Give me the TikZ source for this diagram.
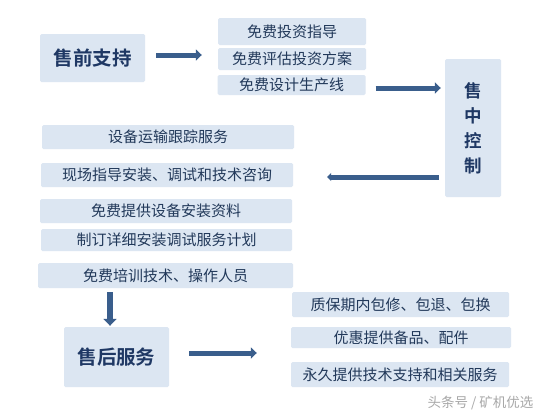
\documentclass[tikz,border=0pt]{standalone}
\usepackage{fontspec}
\setmainfont{Noto Sans CJK SC}[BoldFont={Noto Sans CJK SC Bold}]
\usetikzlibrary{arrows.meta}
\definecolor{boxfill}{HTML}{DCE6F2}
\definecolor{txtblue}{HTML}{22395A}
\definecolor{titleblue}{HTML}{1F3864}
\definecolor{arrowblue}{HTML}{3A5E8C}
\definecolor{wmgray}{HTML}{A8A8A8}
\tikzset{
  itembox/.style={rectangle, fill=boxfill, rounded corners=1.5pt, inner sep=0pt,
    text=txtblue, font=\fontsize{15}{17}\selectfont},
  titlebox/.style={rectangle, fill=boxfill, rounded corners=1.5pt, inner sep=0pt,
    text=titleblue, font=\bfseries\fontsize{19.5}{22}\selectfont},
  arr/.style={draw=arrowblue, line width=5pt, -{Triangle[length=6pt,width=11pt]}},
  arrdown/.style={draw=arrowblue, line width=6.5pt, -{Triangle[length=7pt,width=13pt]}},
}
\begin{document}
\begin{tikzpicture}[x=1pt,y=-1pt]
\useasboundingbox (0,0) rectangle (552,415);
\fill[white] (0,0) rectangle (552,415);
% pre-sale
\node[titlebox, minimum width=105pt, minimum height=48pt] (pre) at (92.5,58) {售前支持};
\node[itembox, minimum width=148pt, minimum height=27pt] (f1) at (292,31.5) {免费投资指导};
\node[itembox, minimum width=148pt, minimum height=22pt] (f2) at (292,59) {免费评估投资方案};
\node[itembox, minimum width=148pt, minimum height=20pt] (f3) at (291.5,85) {免费设计生产线};
% in-sale
\node[titlebox, minimum width=56pt, minimum height=138pt, align=center,
  font=\bfseries\fontsize{17.5}{25}\selectfont] (mid) at (473,128) {售\\中\\控\\制};
\node[itembox, minimum width=252pt, minimum height=24pt] (m1) at (168,137) {设备运输跟踪服务};
\node[itembox, minimum width=252pt, minimum height=24pt] (m2) at (167,175) {现场指导安装、调试和技术咨询};
\node[itembox, minimum width=252pt, minimum height=24pt] (m3) at (166,211) {免费提供设备安装资料};
\node[itembox, minimum width=251pt, minimum height=22pt] (m4) at (166.5,240) {制订详细安装调试服务计划};
\node[itembox, minimum width=255pt, minimum height=25pt] (m5) at (165.5,275.5) {免费培训技术、操作人员};
% after-sale
\node[titlebox, minimum width=105pt, minimum height=60pt] (post) at (116.5,357) {售后服务};
\node[itembox, minimum width=217pt, minimum height=25pt] (p1) at (400.5,304.5) {质保期内包修、包退、包换};
\node[itembox, minimum width=220pt, minimum height=21pt] (p2) at (401,337.5) {优惠提供备品、配件};
\node[itembox, minimum width=218pt, minimum height=25pt] (p3) at (400,374.5) {永久提供技术支持和相关服务};
% watermark
\node[text=wmgray, font=\fontsize{13.5}{15}\selectfont, inner sep=0pt] (wm) at (480.5,403) {头条号 / 矿机优选};
% arrows
\coordinate (a1s) at ([shift={(11,-3)}]pre.east);
\draw[arr] (a1s) -- ([xshift=-16pt]f2.west |- a1s);
\coordinate (a2s) at ([shift={(10,3)}]f3.east);
\draw[arr] (a2s) -- ([xshift=-4pt]mid.west |- a2s);
\coordinate (a3e) at ([shift={(34,2)}]m2.east);
\draw[arr, -{Triangle[length=4pt,width=8pt]}] ([xshift=-6pt]mid.west |- a3e) -- (a3e);
\coordinate (a4e) at ([shift={(-6.5,-1)}]post.north);
\draw[arrdown] ([yshift=-4pt]a4e |- m5.south) -- (a4e);
\coordinate (a5s) at ([shift={(20,-4)}]post.east);
\draw[arr] (a5s) -- ([xshift=-34pt]p2.west |- a5s);
\end{tikzpicture}
\end{document}
